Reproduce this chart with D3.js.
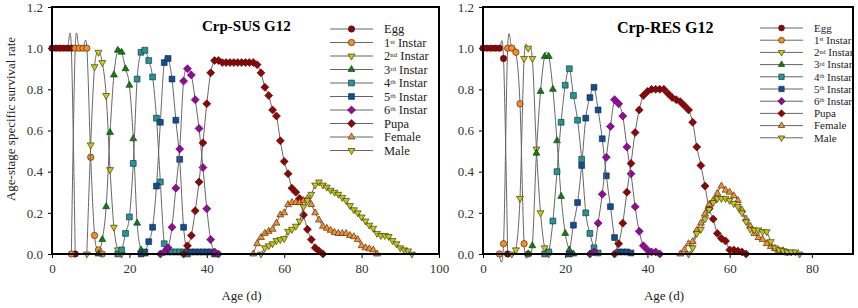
<!DOCTYPE html>
<html>
<head>
<meta charset="utf-8">
<script src="https://cdn.jsdelivr.net/npm/d3@7"></script>
<style>
  body { margin: 0; background: #fff; }
  svg text { font-family: "Liberation Serif", "Times New Roman", serif; }
</style>
</head>
<body>
<svg id="chart" width="858" height="308"></svg>
<script>
// stages, in drawing order
const stages = ["Egg", "1st Instar", "2nd Instar", "3rd Instar", "4th Instar",
                "5th Instar", "6th Instar", "Pupa", "Female", "Male"];
const colors = ["#990000", "#ff8c1a", "#cccc00", "#008a00", "#1a9a9a",
                "#0b4f9e", "#a000a8", "#990000", "#ff8c1a", "#c8c800"];
const shapes = ["circle", "circle", "triDown", "triUp", "square",
                "square", "diamond", "diamond", "triUp", "triDown"];

// age-stage survival, one value per day starting at "start" (Crp-SUS G12)
const susEgg    = { start: 0,  v: [1, 1, 1, 1, 1, 1, 0] };
const susInst1  = { start: 5,  v: [0, 1, 1, 1, 1, 0.47, 0.09, 0.02, 0] };
const susInst2  = { start: 9,  v: [0, 0.53, 0.91, 0.98, 0.93, 0.77, 0.41, 0.13, 0.02, 0] };
const susInst3  = { start: 12, v: [0, 0.07, 0.23, 0.59, 0.87, 0.99, 0.98, 0.90, 0.82, 0.56, 0.15, 0.02, 0] };
const susInst4  = { start: 17, v: [0, 0.02, 0.10, 0.18, 0.44, 0.85, 0.98, 0.99, 0.94, 0.86, 0.66, 0.35, 0.05,
                                   0.01, 0.01, 0.01, 0.01, 0.01, 0] };
const susInst5  = { start: 23, v: [0, 0.01, 0.06, 0.13, 0.33, 0.64, 0.93, 0.95, 0.85, 0.65, 0.46, 0.13,
                                   0.01, 0.01, 0.01, 0.01, 0.01, 0.01, 0.01, 0] };
const susInst6  = { start: 28, v: [0, 0.01, 0.03, 0.13, 0.32, 0.51, 0.84, 0.90, 0.87, 0.75, 0.61, 0.42,
                                   0.22, 0.07, 0.01, 0] };
const susPupa   = { start: 34, v: [0, 0.04, 0.09, 0.21, 0.35, 0.54, 0.73, 0.88, 0.94, 0.94,
                                   0.93, 0.93, 0.93, 0.93, 0.93, 0.93, 0.93, 0.93, 0.93,
                                   0.92, 0.88, 0.81, 0.77, 0.70, 0.67, 0.55, 0.45, 0.39, 0.32,
                                   0.30, 0.27, 0.19, 0.12, 0.07, 0.03, 0.015, 0] };
const susFemale = { start: 52, v: [0, 0.05, 0.08, 0.10, 0.11, 0.12, 0.15, 0.19, 0.20, 0.24, 0.25, 0.25,
                                   0.25, 0.26, 0.27, 0.24, 0.20, 0.165, 0.135, 0.125, 0.115, 0.105,
                                   0.10, 0.10, 0.10, 0.09, 0.084, 0.07, 0.04, 0.03, 0.025, 0.02, 0] };
const susMale   = { start: 54, v: [0, 0.03, 0.04, 0.05, 0.065, 0.07, 0.075, 0.11, 0.12, 0.135, 0.16,
                                   0.23, 0.26, 0.29, 0.335, 0.35, 0.335, 0.325, 0.31, 0.30, 0.29,
                                   0.275, 0.26, 0.235, 0.215, 0.20, 0.18, 0.16, 0.14, 0.125, 0.10,
                                   0.09, 0.09, 0.085, 0.065, 0.05, 0.03, 0.02, 0.015, 0] };

// Crp-RES G12
const resEgg    = { start: 0,  v: [1, 1, 1, 1, 1, 0.95, 0] };
const resInst1  = { start: 4,  v: [0, 0.05, 1, 1, 0.98, 0.73, 0.05, 0] };
const resInst2  = { start: 7,  v: [0, 0.02, 0.27, 0.95, 1.0, 0.95, 0.51, 0.20, 0.03, 0] };
const resInst3  = { start: 11, v: [0, 0.04, 0.49, 0.79, 0.96, 0.96, 0.80, 0.55, 0.28, 0.10, 0.02, 0] };
const resInst4  = { start: 15, v: [0, 0.01, 0.16, 0.40, 0.64, 0.82, 0.90, 0.77, 0.65, 0.46, 0.20, 0.10,
                                   0.03, 0.005] };
const resInst5  = { start: 21, v: [0, 0.14, 0.25, 0.43, 0.66, 0.76, 0.81, 0.70, 0.56, 0.38, 0.23, 0.08,
                                   0.01, 0.01, 0.01, 0.005] };
const resInst6  = { start: 26, v: [0, 0.01, 0.15, 0.29, 0.47, 0.62, 0.75, 0.73, 0.67, 0.52, 0.39, 0.23,
                                   0.11, 0.04, 0.02, 0.01, 0.01, 0] };
const resPupa   = { start: 32, v: [0, 0.05, 0.15, 0.30, 0.44, 0.59, 0.70, 0.77, 0.79, 0.80, 0.80, 0.80,
                                   0.80, 0.78, 0.76, 0.75, 0.74, 0.72, 0.70, 0.64, 0.52, 0.43, 0.33,
                                   0.22, 0.17, 0.10, 0.075, 0.063, 0.02, 0.02, 0.015, 0.01, 0] };
const resFemale = { start: 48, v: [0, 0.02, 0.05, 0.06, 0.115, 0.15, 0.195, 0.24, 0.26, 0.295, 0.33,
                                   0.31, 0.30, 0.283, 0.26, 0.213, 0.17, 0.136, 0.10, 0.08, 0.07,
                                   0.05, 0.036, 0.027, 0.016, 0.016, 0.005] };
const resMale   = { start: 50, v: [0, 0.03, 0.10, 0.12, 0.17, 0.216, 0.25, 0.27, 0.27, 0.27, 0.26,
                                   0.245, 0.23, 0.20, 0.157, 0.12, 0.117, 0.117, 0.108, 0.108, 0.06,
                                   0.03, 0.02, 0.016, 0.01, 0.01, 0.01, 0] };

const susSeries = [susEgg, susInst1, susInst2, susInst3, susInst4, susInst5, susInst6, susPupa, susFemale, susMale];
const resSeries = [resEgg, resInst1, resInst2, resInst3, resInst4, resInst5, resInst6, resPupa, resFemale, resMale];

const yTicks = [0, 0.2, 0.4, 0.6, 0.8, 1.0, 1.2];
const susXTicks = [0, 20, 40, 60, 80, 100];
const resXTicks = [0, 20, 40, 60, 80];

const svg = d3.select("#chart");
const plotTop = 7, plotBottom = 254;

function symbolPath(shape, k) {
  const s = k || 1;
  if (shape === "circle") return { d: d3.symbol(d3.symbolCircle, 32 * s)(), rot: 0 };
  if (shape === "square") return { d: d3.symbol(d3.symbolSquare, 34 * s)(), rot: 0 };
  if (shape === "diamond") return { d: d3.symbol(d3.symbolSquare, 32 * s)(), rot: 45 };
  if (shape === "triUp") return { d: d3.symbol(d3.symbolTriangle, 21 * s)(), rot: 0 };
  return { d: d3.symbol(d3.symbolTriangle, 21 * s)(), rot: 180 };
}

function drawMarker(g, i, cx, cy, k) {
  const sp = symbolPath(shapes[i], k);
  g.append("path")
    .attr("d", sp.d)
    .attr("transform", `translate(${cx},${cy}) rotate(${sp.rot})`)
    .attr("fill", colors[i])
    .attr("stroke", "#222")
    .attr("stroke-width", 0.6);
}

function drawPanel(p) {
  const x = d3.scaleLinear().domain([0, p.xMax]).range([p.x0, p.x1]);
  const y = d3.scaleLinear().domain([0, 1.2]).range([plotBottom, plotTop]);
  const g = svg.append("g");

  // axes
  const gx = g.append("g")
    .attr("transform", `translate(0,${plotBottom})`)
    .call(d3.axisBottom(x).tickValues(p.xTicks).tickSize(4).tickPadding(6));
  const gy = g.append("g")
    .attr("transform", `translate(${p.x0},0)`)
    .call(d3.axisLeft(y).tickValues(yTicks).tickFormat(d3.format(".1f")).tickSize(4).tickPadding(5));
  [gx, gy].forEach(a => {
    a.select(".domain").remove();
    a.selectAll("text").attr("font-size", 13).attr("fill", "#333")
      .attr("font-family", "Liberation Serif");
    a.selectAll("line").attr("stroke", "#000");
  });

  // curves and markers
  const line = d3.line()
    .x(d => x(d[0])).y(d => y(d[1]))
    .curve(d3.curveCardinal.tension(0));
  p.series.forEach((s, i) => {
    const pts = s.v.map((v, j) => [s.start + j, v]);
    g.append("path")
      .attr("d", line(pts))
      .attr("fill", "none")
      .attr("stroke", "#666")
      .attr("stroke-width", 1);
    const mg = g.append("g");
    pts.forEach(d => drawMarker(mg, i, x(d[0]), y(d[1]), 1));
  });

  // frame
  g.append("rect")
    .attr("x", p.x0).attr("y", plotTop)
    .attr("width", p.x1 - p.x0).attr("height", plotBottom - plotTop)
    .attr("fill", "none").attr("stroke", "#000").attr("stroke-width", 2);

  // title
  g.append("text")
    .attr("x", p.titleX).attr("y", p.titleY)
    .attr("font-size", p.titleSize).attr("font-weight", "bold")
    .text(p.title);

  // legend
  stages.forEach((name, i) => {
    const ly = p.legY + i * p.legStep;
    const lg = g.append("g");
    lg.append("line")
      .attr("x1", p.legX).attr("x2", p.legX + 43)
      .attr("y1", ly).attr("y2", ly)
      .attr("stroke", "#666").attr("stroke-width", 1);
    drawMarker(lg, i, p.legX + 21.5, ly, p.legK);
    const t = lg.append("text")
      .attr("x", p.legX + 54).attr("y", ly).attr("dy", "0.35em")
      .attr("font-size", p.legSize).attr("fill", "#222");
    const m = name.match(/^(\d)(st|nd|rd|th) (.*)$/);
    if (m) {
      t.append("tspan").text(m[1]);
      t.append("tspan").attr("font-size", p.legSize * 0.55).attr("dy", "-0.45em").text(m[2]);
      t.append("tspan").attr("dy", "0.25em").text(" " + m[3]);
    } else {
      t.text(name);
    }
  });

  // x title
  g.append("text")
    .attr("x", (p.x0 + p.x1) / 2 - 4).attr("y", 300)
    .attr("text-anchor", "middle").attr("font-size", 13).attr("fill", "#222")
    .text("Age (d)");
}

drawPanel({
  x0: 52, x1: 439, xMax: 100, xTicks: susXTicks, series: susSeries,
  title: "Crp-SUS G12", titleX: 202, titleY: 31, titleSize: 15,
  legX: 330, legY: 29, legStep: 13.5, legSize: 12.5, legK: 1
});

drawPanel({
  x0: 483, x1: 853, xMax: 90, xTicks: resXTicks, series: resSeries,
  title: "Crp-RES G12", titleX: 617, titleY: 33, titleSize: 16,
  legX: 760, legY: 28, legStep: 12.2, legSize: 11, legK: 0.85
});

// shared y title
svg.append("text")
  .attr("transform", "translate(15,119) rotate(-90)")
  .attr("text-anchor", "middle").attr("font-size", 13).attr("fill", "#222")
  .text("Age-stage specific survival rate");
</script>
</body>
</html>
